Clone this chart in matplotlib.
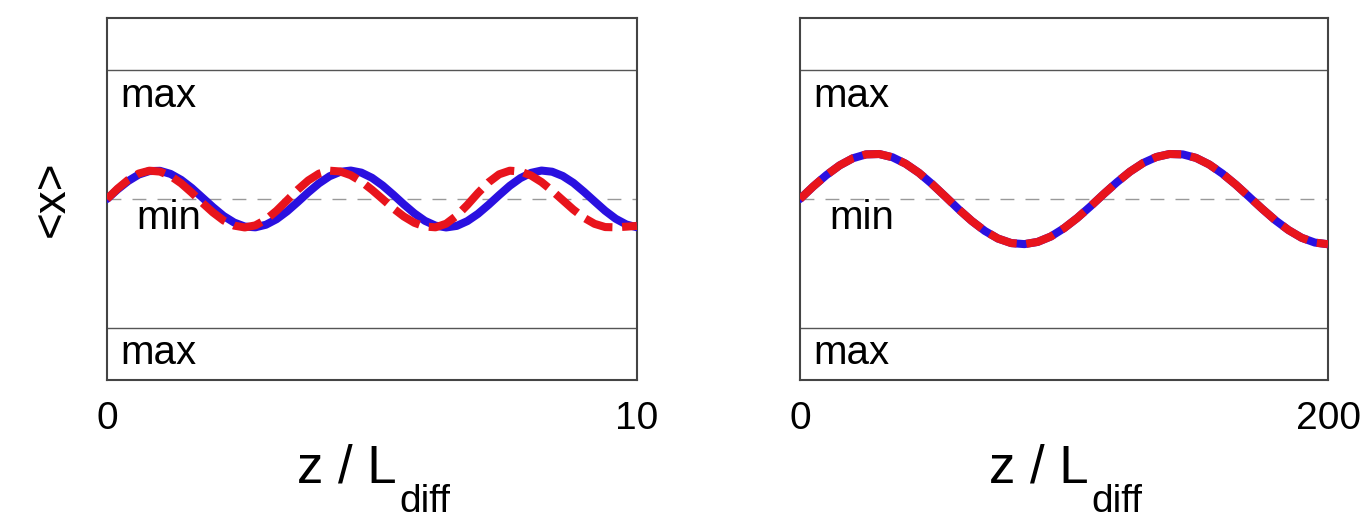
import numpy as np
import matplotlib
matplotlib.use("Agg")
import matplotlib.pyplot as plt

plt.rcParams['font.family'] = ['Liberation Sans', 'DejaVu Sans']

# left panel: z / L_diff from 0 to 10, step 0.2
z_left = np.arange(51) * 0.2
x_blue_left = [0.000, 0.074, 0.139, 0.189, 0.216, 0.218, 0.194, 0.148, 0.085, 0.011,
               -0.063, -0.131, -0.182, -0.213, -0.219, -0.199, -0.156, -0.095, -0.023, 0.052,
               0.121, 0.176, 0.210, 0.220, 0.204, 0.164, 0.105, 0.034, -0.041, -0.111,
               -0.169, -0.206, -0.220, -0.208, -0.171, -0.115, -0.045, 0.030, 0.102, 0.161,
               0.202, 0.220, 0.211, 0.178, 0.125, 0.056, -0.018, -0.091, -0.153, -0.197,
               -0.219]
x_red_left = [0.000, 0.080, 0.148, 0.197, 0.219, 0.212, 0.178, 0.121, 0.049, -0.030,
              -0.104, -0.166, -0.206, -0.220, -0.204, -0.159, -0.091, -0.010, 0.072, 0.144,
              0.196, 0.219, 0.213, 0.184, 0.135, 0.071, 0.000, -0.072, -0.135, -0.184,
              -0.213, -0.219, -0.191, -0.129, -0.046, 0.046, 0.129, 0.191, 0.219, 0.213,
              0.182, 0.131, 0.064, -0.009, -0.082, -0.145, -0.192, -0.217, -0.219, -0.214,
              -0.208]

# right panel: z / L_diff from 0 to 200, step 5
z_right = np.arange(41) * 5
x_right = [0.000, 0.097, 0.185, 0.260, 0.315, 0.345, 0.348, 0.323, 0.273, 0.203,
           0.116, 0.020, -0.078, -0.169, -0.247, -0.306, -0.341, -0.349, -0.332, -0.290,
           -0.226, -0.147, -0.057, 0.038, 0.129, 0.212, 0.279, 0.325, 0.348, 0.345,
           0.318, 0.267, 0.196, 0.112, 0.019, -0.075, -0.164, -0.240, -0.300, -0.337,
           -0.350]

panels = [
    (z_left, x_blue_left, x_red_left, 10, ['0', '10']),
    (z_right, x_right, x_right, 200, ['0', '200']),
]
positions = [[0.0782, 0.2803, 0.3874, 0.6856], [0.5848, 0.2803, 0.3860, 0.6856]]

fig = plt.figure(figsize=(13.68, 5.28), dpi=100)

for i, (z, xb, xr, zmax, ticklabels) in enumerate(panels):
    ax = fig.add_axes(positions[i])
    ax.plot(z, xb, color='#2a10e0', lw=5.8, solid_capstyle='round', zorder=3)
    ax.plot(z, xr, color='#e8141c', lw=5.8, dashes=(3.6, 1.2), zorder=4)
    ax.axhline(1.0, color='#555555', lw=1.0, zorder=1)
    ax.axhline(-1.0, color='#555555', lw=1.0, zorder=1)
    ax.axhline(0.0, color='#999999', lw=1.0, dashes=(10, 8), zorder=1)
    ax.set_xlim(0, zmax)
    ax.set_ylim(-1.4, 1.4)
    ax.set_xticks([0, zmax])
    ax.set_xticklabels(ticklabels)
    ax.set_yticks([])
    ax.tick_params(axis='x', length=0, pad=15, labelsize=28)
    for sp in ax.spines.values():
        sp.set_color('#444444')
        sp.set_linewidth(1.5)
    ax.text(0.025, 0.785, 'max', transform=ax.transAxes, fontsize=29, va='center', ha='left')
    ax.text(0.055, 0.447, 'min', transform=ax.transAxes, fontsize=29, va='center', ha='left')
    ax.text(0.025, 0.075, 'max', transform=ax.transAxes, fontsize=29, va='center', ha='left')
    # axis label z / L_diff with a deep subscript
    ax.text(0.547, -0.2845, 'z / L', transform=ax.transAxes, fontsize=38,
            ha='right', va='baseline')
    ax.text(0.551, -0.3646, 'diff', transform=ax.transAxes, fontsize=28,
            ha='left', va='baseline')

fig.axes[0].set_ylabel('<x>', fontsize=33, labelpad=24)

fig.savefig('out.png', dpi=100, facecolor='white')
